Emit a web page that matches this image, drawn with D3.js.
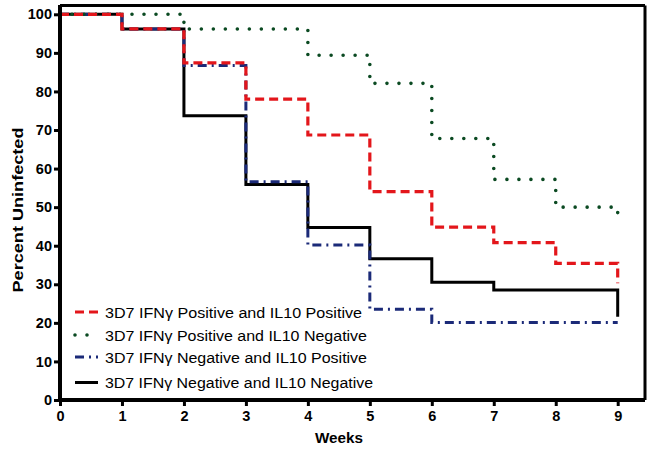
<!DOCTYPE html>
<html><head><meta charset="utf-8">
<script src="https://cdn.jsdelivr.net/npm/d3@7"></script>
<style>body{margin:0;background:#fff}svg{display:block}text{font-family:"Liberation Sans",Arial,sans-serif}</style>
</head><body>
<script>
const weeks = [0,1,2,3,4,5,6,7,8,9];
const seriesNames = [
  "3D7 IFN\u03b3 Positive and IL10 Positive",
  "3D7 IFN\u03b3 Positive and IL10 Negative",
  "3D7 IFN\u03b3 Negative and IL10 Positive",
  "3D7 IFN\u03b3 Negative and IL10 Negative"
];
const posPos = [100,96.2,87.4,78,68.7,54,44.8,40.8,35.4,30.3];
const posNeg = [100,100,96.2,96.2,89.4,82.1,67.8,57.2,50,46];
const negPos = [100,96.2,86.7,56.6,40.2,23.5,20.1,20.1,20.1,20.1];
const negNeg = [100,96.2,73.7,55.9,44.7,36.6,30.5,28.5,28.5,21.6];
const xTicks = [0,1,2,3,4,5,6,7,8,9];
const yTicks = [0,10,20,30,40,50,60,70,80,90,100];

const W=656,H=449;
const svg=d3.select("body").append("svg").attr("width",W).attr("height",H);
const x=d3.scaleLinear().domain([0,9]).range([60,617.7]);
const y=d3.scaleLinear().domain([0,100]).range([400,14.3]);

const styles=[
  {vals:posPos,color:"#e3161b",dash:"9,5",cap:"butt",w:3.2},
  {vals:posNeg,color:"#0b4a22",dash:"0,12",cap:"round",w:3.6},
  {vals:negPos,color:"#1b2a78",dash:"9,5,2,5",cap:"butt",w:3},
  {vals:negNeg,color:"#000",dash:null,cap:"butt",w:3}
];

// frame top/right
svg.append("line").attr("x1",60).attr("x2",645).attr("y1",5.5).attr("y2",5.5).attr("stroke","#000").attr("stroke-width",3);
svg.append("line").attr("x1",645).attr("x2",645).attr("y1",5.5).attr("y2",400).attr("stroke","#000").attr("stroke-width",3);

const line=d3.line().x((d,i)=>x(weeks[i])).y(d=>y(d)).curve(d3.curveStepAfter);
const drawOrder=[3,2,1,0];
drawOrder.forEach(k=>{
  const s=styles[k];
  svg.append("path").attr("d",line(s.vals)).attr("fill","none").attr("stroke",s.color)
    .attr("stroke-width",s.w).attr("stroke-dasharray",s.dash).attr("stroke-linecap",s.cap);
});

// axes
const xAxis=svg.append("g").attr("transform","translate(0,400)")
  .call(d3.axisBottom(x).tickValues(xTicks).tickFormat(d3.format("d")).tickSize(6).tickPadding(5));
const yAxis=svg.append("g").attr("transform","translate(60,0)")
  .call(d3.axisLeft(y).tickValues(yTicks).tickFormat(d3.format("d")).tickSize(6).tickPadding(2));
[xAxis,yAxis].forEach(g=>{
  g.select(".domain").attr("stroke","#000").attr("stroke-width",4);
  g.selectAll(".tick line").attr("stroke","#000").attr("stroke-width",3);
  g.selectAll(".tick text").attr("fill","#000").style("font-size","14.5px").style("font-weight","bold")
    .style("font-family","'Liberation Sans',Arial,sans-serif");
});
xAxis.select(".domain").attr("d","M58,0H645");
yAxis.select(".domain").attr("d","M0,402V5");

svg.append("text").attr("x",339).attr("y",443).attr("text-anchor","middle")
  .attr("textLength",48).attr("lengthAdjust","spacingAndGlyphs")
  .style("font-size","15px").style("font-weight","bold").text("Weeks");
svg.append("text").attr("transform","translate(23,210) rotate(-90)").attr("text-anchor","middle")
  .attr("textLength",165).attr("lengthAdjust","spacingAndGlyphs")
  .style("font-size","15.5px").style("font-weight","bold").text("Percent Uninfected");

// legend
const legY=[312,335,357,382.5];
const legLen=[257,262,262,268];
seriesNames.forEach((n,i)=>{
  const s=styles[i];
  svg.append("line").attr("x1",75).attr("x2",98).attr("y1",legY[i]).attr("y2",legY[i])
    .attr("stroke",s.color).attr("stroke-width",s.w).attr("stroke-dasharray",s.dash).attr("stroke-linecap",s.cap);
  svg.append("text").attr("x",105).attr("y",legY[i]).attr("dy","0.36em")
    .attr("textLength",legLen[i]).attr("lengthAdjust","spacingAndGlyphs")
    .style("font-size","15.5px").attr("fill","#000").text(n);
});
</script>
</body></html>
